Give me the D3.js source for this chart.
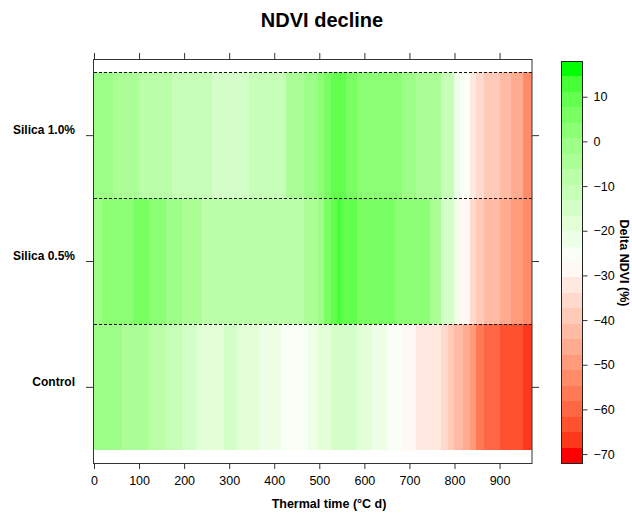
<!DOCTYPE html>
<html>
<head>
<meta charset="utf-8">
<script src="https://cdn.jsdelivr.net/npm/d3@7"></script>
<style>
  html, body { margin: 0; padding: 0; background: #fff; }
  svg { display: block; font-family: "Liberation Sans", Arial, sans-serif; }
</style>
</head>
<body>
<svg id="chart" width="632" height="513"></svg>
<script>
// Thermal time interval boundaries (°C d); each cell spans one interval
const thermalTimeBreaks = [0, 17, 43, 63, 87, 100, 122, 160, 172, 196, 229, 239, 261, 288, 318, 344,
  367, 416, 427, 466, 475, 497, 510, 525, 540, 549, 559, 584, 618, 651, 668, 684, 715, 745, 770,
  786, 800, 812, 819, 834, 847, 866, 900, 926, 953, 972];

const treatments = ["Control", "Silica 0.5%", "Silica 1.0%"];

// Delta NDVI (%) per thermal time interval
const deltaControl = [-1, -1, -1, -4.5, -4.5, -4.5, -8, -11, -11, -15, -18, -18, -18, -15, -18, -18,
  -22, -25, -25, -25, -22, -18, -18, -15, -15, -15, -15, -18, -22, -25, -25, -29, -32, -32, -36,
  -39, -43, -43, -46, -49.5, -56.4, -60, -63, -63, -67];
const deltaSilica05 = [-1, 2.4, 2.4, 2.4, 5.9, 5.9, 2.4, -1, -1, -4.5, -4.5, -8, -8, -8, -8, -8,
  -8, -8, -8, -4.5, -4.5, -1, 5.9, 9.3, 12.8, 9.3, 9.3, 5.9, 5.9, 5.9, 2.4, 2.4, 2.4, -4.5, -15,
  -15, -22, -29, -29, -36, -39, -43, -46, -49.5, -53];
const deltaSilica10 = [-1, -1, -4.5, -4.5, -4.5, -8, -8, -8, -11, -11, -11, -11, -15, -15, -15, -11,
  -11, -11, -4.5, -1, -1, 2.4, 5.9, 9.3, 9.3, 9.3, 5.9, 2.4, 2.4, 2.4, 2.4, -1, -4.5, -4.5, -11,
  -11, -22, -25, -25, -32, -36, -39, -43, -46, -52];

const seriesByTreatment = [deltaControl, deltaSilica05, deltaSilica10];

const xTickValues = [0, 100, 200, 300, 400, 500, 600, 700, 800, 900];
const colorKeyTicks = [10, 0, -10, -20, -30, -40, -50, -60, -70];
const colorKeyDomain = [-72, 18];
const colorLevels = 26;

const svg = d3.select("#chart");

// Scales
const x = d3.scaleLinear().domain([0, 972]).range([94, 532]);
const row = d3.scaleLinear().domain([0.395, 3.605]).range([463, 59]);

// Red - white - green ramp interpolated in Lab space, cut into discrete levels
const ramp = d3.piecewise(d3.interpolateLab, ["#ff0000", "#ffffff", "#00ff00"]);
const levelColors = d3.range(colorLevels).map(i => ramp(i / (colorLevels - 1)));
const colour = d3.scaleQuantize().domain(colorKeyDomain).range(levelColors);

// Title
svg.append("text")
  .attr("x", 322).attr("y", 27)
  .attr("text-anchor", "middle")
  .attr("font-size", 20).attr("font-weight", "bold")
  .text("NDVI decline");

// Heat cells
const cells = [];
seriesByTreatment.forEach((vals, r) => {
  vals.forEach((v, j) => {
    cells.push({ row: r + 1, x0: thermalTimeBreaks[j], x1: thermalTimeBreaks[j + 1], value: v });
  });
});

svg.append("g")
  .attr("shape-rendering", "crispEdges")
  .selectAll("rect")
  .data(cells)
  .join("rect")
  .attr("x", d => x(d.x0))
  .attr("width", d => x(d.x1) - x(d.x0))
  .attr("y", d => row(d.row + 0.5))
  .attr("height", d => row(d.row - 0.5) - row(d.row + 0.5))
  .attr("fill", d => colour(d.value));

// Dashed separators between treatments
svg.append("g")
  .selectAll("line")
  .data([1.5, 2.5, 3.5])
  .join("line")
  .attr("x1", x(0)).attr("x2", x(972))
  .attr("y1", d => Math.round(row(d)) + 0.5)
  .attr("y2", d => Math.round(row(d)) + 0.5)
  .attr("stroke", "#111")
  .attr("stroke-width", 1)
  .attr("stroke-dasharray", "3,2");

// Panel frame
svg.append("rect")
  .attr("x", x(0) - 0.5).attr("y", row(3.605) + 0.5)
  .attr("width", x(972) - x(0) + 0.5).attr("height", row(0.395) - row(3.605))
  .attr("fill", "none").attr("stroke", "#333").attr("stroke-width", 1);

function styleAxis(g) {
  g.select(".domain").remove();
  g.selectAll(".tick line").attr("stroke", "#333");
  g.selectAll(".tick text").attr("fill", "#000");
}

// Bottom axis
svg.append("g")
  .attr("transform", `translate(0,${row(0.395)})`)
  .call(d3.axisBottom(x).tickValues(xTickValues).tickSize(6).tickPadding(7))
  .call(styleAxis)
  .call(g => g.selectAll(".tick text").attr("font-size", 12.5).attr("font-family", null));

// Top axis (ticks only)
svg.append("g")
  .attr("transform", `translate(0,${row(3.605)})`)
  .call(d3.axisTop(x).tickValues(xTickValues).tickSize(6).tickFormat(""))
  .call(styleAxis);

// Left axis with treatment names
svg.append("g")
  .attr("transform", `translate(${x(0)},0)`)
  .call(d3.axisLeft(row).tickValues([1, 2, 3]).tickSize(8).tickPadding(11)
    .tickFormat(i => treatments[i - 1]))
  .call(styleAxis)
  .call(g => g.selectAll(".tick text")
    .attr("font-size", 12).attr("font-weight", "bold").attr("font-family", null)
    .attr("dy", "-0.1em"));

// Right axis (ticks only)
svg.append("g")
  .attr("transform", `translate(${x(972)},0)`)
  .call(d3.axisRight(row).tickValues([1, 2, 3]).tickSize(7).tickFormat(""))
  .call(styleAxis);

// X axis title
svg.append("text")
  .attr("x", 329).attr("y", 508)
  .attr("text-anchor", "middle")
  .attr("font-size", 12.5).attr("font-weight", "bold")
  .text("Thermal time (°C d)");

// Colour key
const keyY = d3.scaleLinear().domain(colorKeyDomain).range([463, 61]);
const keyX0 = 561, keyX1 = 582;
const step = (colorKeyDomain[1] - colorKeyDomain[0]) / colorLevels;
const keyBands = d3.range(colorLevels).map(i => ({
  lo: colorKeyDomain[0] + i * step,
  hi: colorKeyDomain[0] + (i + 1) * step
}));

svg.append("g")
  .attr("shape-rendering", "crispEdges")
  .selectAll("rect")
  .data(keyBands)
  .join("rect")
  .attr("x", keyX0).attr("width", keyX1 - keyX0)
  .attr("y", d => keyY(d.hi))
  .attr("height", d => keyY(d.lo) - keyY(d.hi))
  .attr("fill", d => colour((d.lo + d.hi) / 2));

svg.append("rect")
  .attr("x", keyX0 + 0.5).attr("y", keyY(colorKeyDomain[1]) + 0.5)
  .attr("width", keyX1 - keyX0).attr("height", keyY(colorKeyDomain[0]) - keyY(colorKeyDomain[1]))
  .attr("fill", "none").attr("stroke", "#222").attr("stroke-width", 1);

svg.append("g")
  .attr("transform", `translate(${keyX1 + 0.5},0)`)
  .call(d3.axisRight(keyY).tickValues(colorKeyTicks).tickSize(5).tickPadding(6)
    .tickFormat(d => d < 0 ? "\u2212" + Math.abs(d) : String(d)))
  .call(styleAxis)
  .call(g => g.selectAll(".tick text").attr("font-size", 12.5).attr("font-family", null));

svg.append("text")
  .attr("transform", "translate(620,263) rotate(90)")
  .attr("text-anchor", "middle")
  .attr("font-size", 12.5).attr("font-weight", "bold")
  .text("Delta NDVI (%)");
</script>
</body>
</html>
